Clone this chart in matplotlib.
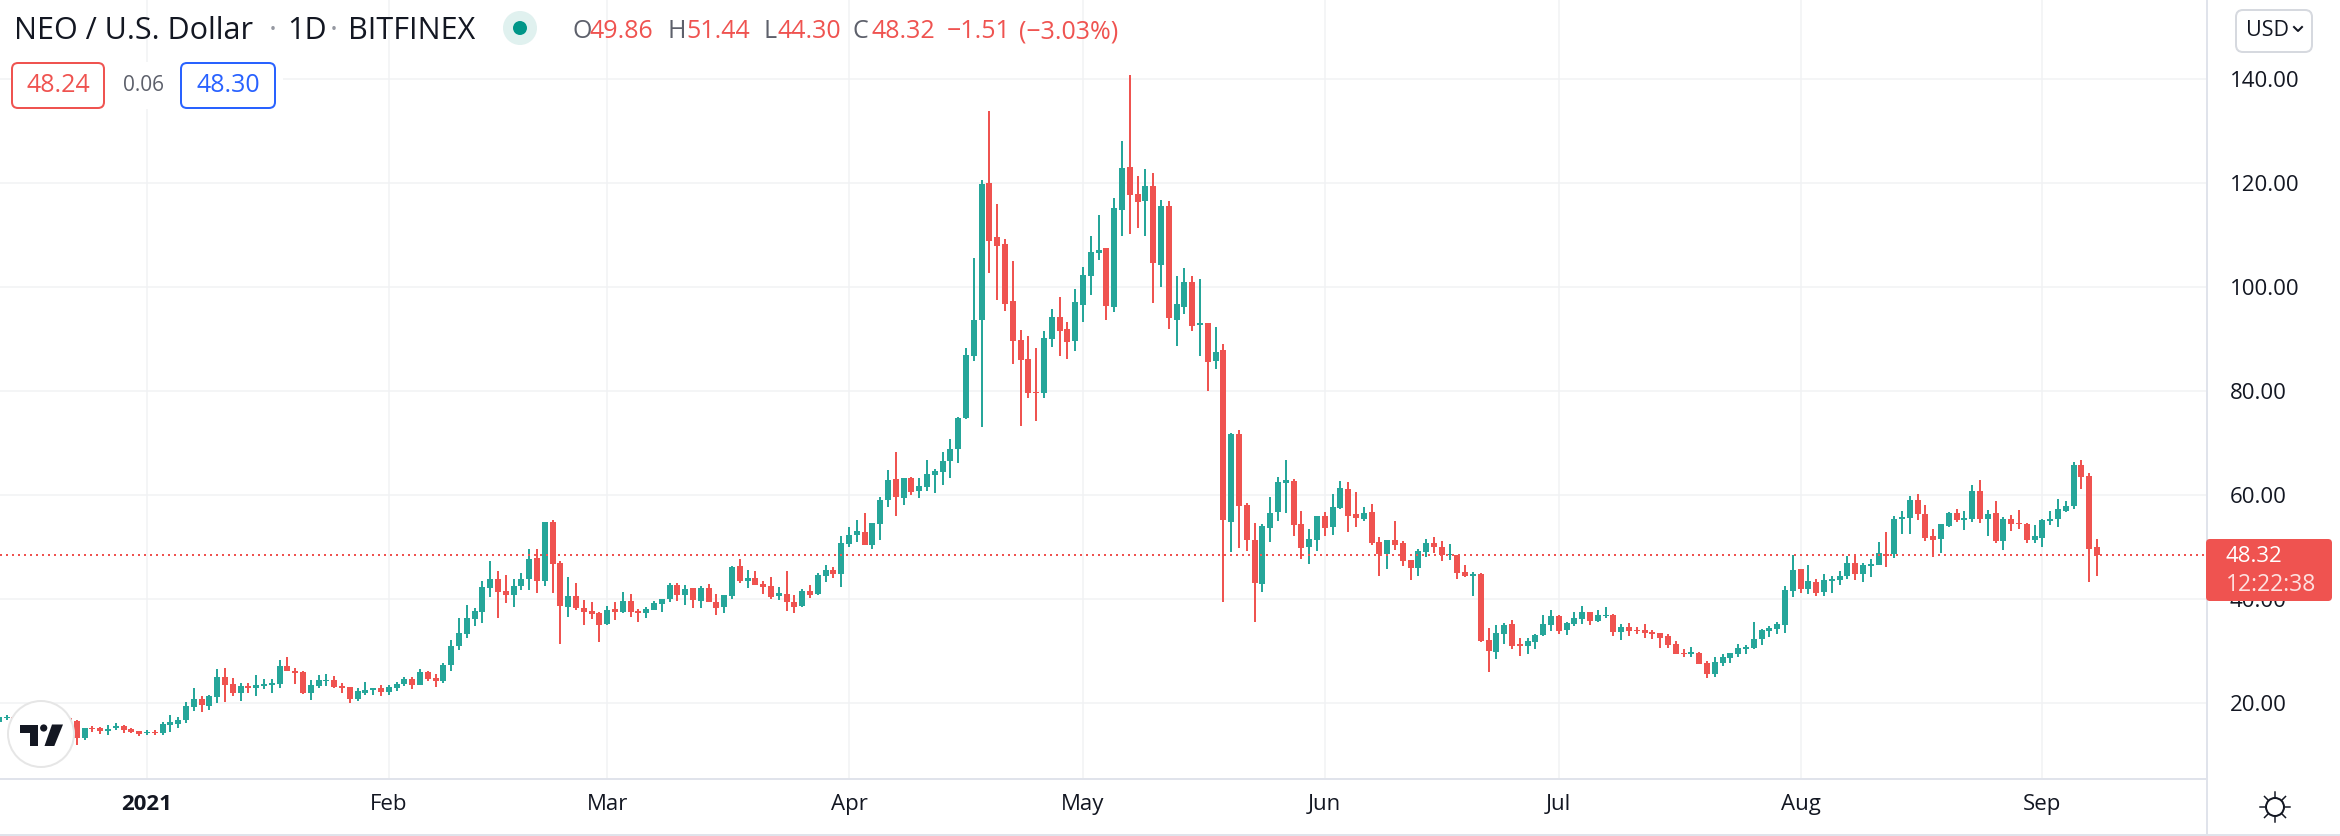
import pandas as pd
import matplotlib
matplotlib.use("Agg")
import matplotlib.pyplot as plt
import matplotlib.dates as mdates
from matplotlib.patches import Circle, FancyBboxPatch, Polygon, Rectangle

# daily candles, NEO/USD, 2020-12-13 .. 2021-09-08
first_day = "2020-12-13"
opens = [
    16.2, 17.0, 17.2, 17.0, 16.7, 16.5, 16.9, 16.6, 16.9, 17.1,
    16.5, 13.3, 15.1, 15.1, 14.6, 15.1, 15.5, 14.9, 14.5, 14.1,
    14.4, 14.1, 15.8, 16.0, 16.7, 19.2, 20.7, 19.4, 21.1, 24.9,
    23.6, 21.9, 23.2, 22.8, 23.2, 23.4, 23.6, 27.1, 26.1, 26.0,
    21.9, 23.2, 24.2, 24.4, 23.2, 23.0, 20.7, 21.9, 22.4, 22.8,
    22.1, 22.8, 23.6, 24.6, 23.4, 25.9, 24.7, 24.2, 27.2, 30.9,
    33.2, 36.1, 37.4, 42.1, 43.8, 41.5, 40.7, 42.4, 43.8, 47.8,
    43.4, 54.7, 46.9, 38.4, 40.5, 38.2, 37.6, 37.2, 35.1, 38.0,
    37.4, 39.6, 37.6, 37.2, 37.8, 39.0, 39.9, 42.6, 40.7, 42.1,
    39.6, 42.1, 39.4, 38.4, 40.5, 46.3, 43.4, 44.0, 42.8, 42.4,
    40.5, 40.9, 39.4, 38.6, 41.5, 40.9, 44.4, 45.5, 44.7, 50.5,
    52.2, 52.8, 50.3, 54.4, 59.0, 63.0, 59.4, 63.2, 60.7, 61.5,
    63.8, 64.4, 66.5, 68.8, 74.7, 86.7, 93.6, 119.9, 109.6, 108.2,
    97.2, 89.7, 86.1, 79.8, 79.6, 89.9, 94.2, 91.9, 89.6, 96.5,
    102.1, 106.5, 107.4, 96.1, 114.7, 123.0, 117.8, 116.5, 119.4, 104.2,
    115.5, 93.6, 96.1, 100.9, 92.6, 93.0, 85.7, 87.8, 54.7, 71.7,
    58.0, 51.3, 42.8, 53.6, 56.7, 62.2, 62.6, 54.4, 49.9, 51.3,
    55.9, 53.8, 57.4, 61.1, 56.3, 55.3, 56.7, 50.9, 48.6, 51.3,
    50.7, 47.4, 45.9, 49.0, 50.7, 49.9, 48.4, 48.4, 45.1, 44.4,
    44.7, 32.1, 29.7, 33.2, 35.1, 31.3, 30.9, 31.7, 33.0, 34.9,
    36.7, 34.0, 35.1, 36.1, 37.4, 35.7, 36.7, 36.9, 33.6, 34.6,
    34.0, 34.0, 33.6, 33.4, 32.8, 31.3, 29.6, 29.4, 29.6, 27.6,
    25.5, 27.6, 28.6, 29.4, 30.4, 30.5, 32.2, 33.8, 34.2, 34.9,
    41.5, 45.7, 41.9, 43.2, 41.3, 43.4, 43.6, 44.4, 46.9, 44.7,
    46.3, 46.5, 48.6, 48.6, 55.3, 55.5, 59.0, 56.3, 52.1, 51.5,
    54.0, 56.5, 55.1, 55.3, 60.7, 55.3, 56.5, 51.1, 55.3, 54.6,
    54.4, 51.3, 51.7, 54.9, 55.3, 56.9, 57.8, 65.7, 63.6, 49.86,
]
highs = [
    17.6, 17.6, 17.4, 17.5, 17.3, 17.2, 17.4, 17.1, 17.5, 17.3,
    16.6, 15.2, 15.6, 15.3, 15.7, 16.1, 15.7, 15.1, 14.6, 14.7,
    14.7, 16.3, 17.6, 17.2, 20.1, 22.8, 21.3, 21.5, 26.5, 26.7,
    24.7, 23.8, 23.8, 25.3, 24.6, 24.6, 28.2, 28.8, 26.7, 26.1,
    24.4, 25.3, 25.5, 25.1, 23.8, 23.1, 22.8, 24.0, 22.9, 23.4,
    23.4, 24.0, 24.9, 24.9, 26.5, 26.1, 25.5, 27.6, 32.1, 36.3,
    38.8, 38.2, 43.4, 47.2, 45.3, 44.6, 43.8, 44.9, 49.6, 49.6,
    54.8, 55.1, 47.2, 44.2, 43.0, 39.7, 39.4, 37.4, 38.6, 39.4,
    41.3, 40.9, 38.0, 38.4, 39.6, 40.0, 43.0, 43.0, 42.6, 42.1,
    42.4, 42.8, 40.9, 40.8, 46.3, 47.6, 45.5, 45.3, 43.4, 44.2,
    42.2, 45.3, 40.7, 41.9, 42.6, 44.9, 46.5, 46.1, 52.1, 53.8,
    55.1, 56.5, 54.6, 59.6, 64.7, 68.2, 63.3, 63.4, 63.2, 66.7,
    64.9, 68.2, 70.7, 74.9, 88.2, 105.5, 120.5, 133.8, 115.9, 109.2,
    104.9, 91.7, 90.5, 88.2, 91.5, 95.7, 98.0, 93.2, 99.6, 103.8,
    109.7, 113.8, 107.5, 117.1, 128.0, 140.7, 121.3, 122.6, 121.9, 116.7,
    116.5, 102.1, 103.6, 102.1, 101.5, 93.1, 92.2, 89.0, 71.9, 72.4,
    58.4, 54.6, 54.4, 59.6, 63.4, 66.7, 63.0, 56.9, 53.4, 56.0,
    56.7, 60.1, 62.6, 62.4, 60.5, 57.6, 58.2, 51.9, 51.3, 54.9,
    51.1, 47.5, 49.6, 51.5, 51.9, 51.1, 50.5, 48.5, 46.5, 45.1,
    44.9, 34.4, 34.9, 35.3, 35.9, 32.4, 32.4, 33.2, 36.9, 37.8,
    36.8, 35.5, 37.4, 38.6, 37.5, 37.8, 38.4, 37.0, 35.1, 35.3,
    34.6, 35.1, 34.0, 33.5, 33.2, 31.9, 30.3, 30.7, 29.7, 28.0,
    28.8, 29.4, 29.6, 31.3, 31.1, 35.5, 34.2, 34.7, 35.5, 42.4,
    48.4, 45.8, 46.5, 43.8, 44.7, 44.4, 45.3, 48.2, 48.4, 46.9,
    47.6, 50.9, 52.8, 55.9, 56.9, 59.7, 60.1, 58.0, 53.4, 54.4,
    56.7, 57.2, 56.9, 61.9, 62.8, 57.1, 58.8, 55.7, 56.1, 57.1,
    54.5, 54.2, 55.3, 56.9, 59.2, 58.8, 66.3, 66.7, 64.2, 51.44,
]
lows = [
    15.9, 16.7, 16.7, 16.4, 16.2, 16.1, 16.4, 16.2, 16.5, 16.2,
    11.9, 12.8, 14.4, 14.0, 13.8, 14.7, 14.2, 14.2, 13.6, 13.8,
    13.8, 13.8, 14.4, 15.1, 16.1, 18.4, 18.2, 18.6, 19.9, 20.1,
    21.3, 20.3, 21.9, 21.3, 22.6, 21.9, 22.8, 26.1, 23.6, 21.7,
    20.5, 22.8, 23.2, 22.8, 21.9, 19.9, 20.3, 21.5, 21.5, 21.3,
    21.5, 22.2, 23.2, 22.6, 23.4, 24.2, 23.0, 23.8, 26.1, 30.1,
    32.4, 34.7, 35.3, 40.3, 36.3, 39.2, 38.4, 41.7, 41.7, 41.1,
    42.4, 41.1, 31.3, 36.5, 37.8, 34.9, 36.1, 31.7, 34.9, 35.9,
    37.2, 36.5, 35.5, 36.3, 37.8, 37.4, 39.4, 39.6, 38.8, 38.2,
    38.2, 39.4, 36.9, 37.2, 39.9, 43.0, 42.1, 42.6, 40.9, 39.9,
    39.7, 37.6, 37.2, 38.4, 40.1, 40.7, 43.2, 44.0, 42.2, 49.9,
    50.9, 50.3, 49.6, 51.3, 57.6, 55.9, 58.0, 59.9, 59.4, 60.7,
    60.3, 61.9, 63.2, 66.1, 74.6, 85.7, 73.0, 102.6, 97.4, 95.3,
    85.1, 73.2, 78.6, 74.2, 78.6, 88.4, 86.7, 86.1, 87.6, 93.2,
    98.4, 105.1, 93.6, 95.1, 109.7, 110.1, 111.3, 109.7, 96.9, 99.9,
    91.9, 88.6, 94.7, 91.5, 86.7, 79.9, 84.2, 39.4, 49.0, 49.7,
    49.2, 35.5, 41.3, 50.9, 54.9, 56.5, 52.1, 47.6, 46.7, 49.2,
    52.1, 52.2, 57.2, 52.8, 53.8, 54.9, 50.3, 44.4, 45.7, 49.4,
    46.3, 43.6, 44.4, 48.0, 48.8, 47.2, 47.4, 43.8, 44.2, 40.5,
    31.7, 25.9, 28.4, 31.3, 30.3, 29.0, 29.4, 30.3, 32.8, 33.8,
    33.2, 33.0, 34.7, 35.1, 34.9, 35.5, 36.3, 32.8, 32.1, 32.8,
    33.2, 32.4, 32.2, 30.5, 30.5, 29.4, 28.8, 28.8, 27.4, 24.7,
    24.9, 27.1, 27.6, 28.8, 29.4, 30.3, 31.1, 32.6, 33.2, 33.4,
    40.3, 41.1, 40.9, 40.5, 40.5, 41.1, 42.6, 43.8, 43.6, 43.2,
    44.2, 46.4, 46.1, 47.8, 52.4, 52.4, 55.1, 51.1, 48.0, 48.8,
    53.8, 54.7, 53.2, 54.7, 54.6, 52.1, 50.7, 49.4, 53.0, 53.4,
    50.7, 50.7, 49.9, 54.2, 53.8, 56.7, 57.2, 61.1, 43.2, 44.30,
]
closes = [
    17.2, 17.2, 17.0, 16.7, 16.5, 16.9, 16.6, 16.9, 17.1, 16.5,
    13.3, 15.1, 14.9, 14.6, 14.9, 15.6, 14.7, 14.4, 14.0, 14.4,
    14.1, 15.9, 16.3, 16.7, 19.4, 20.7, 19.6, 21.3, 24.9, 23.4,
    21.9, 23.2, 22.8, 23.4, 23.6, 23.8, 27.1, 26.1, 25.8, 21.9,
    23.4, 24.4, 24.4, 23.0, 22.9, 20.7, 22.2, 22.4, 22.8, 22.1,
    23.0, 23.6, 24.6, 23.4, 25.9, 24.6, 24.2, 27.2, 30.9, 33.4,
    36.3, 37.6, 42.2, 43.8, 41.3, 40.7, 42.4, 43.8, 47.6, 43.4,
    54.7, 46.7, 38.6, 40.5, 38.2, 37.4, 37.1, 34.9, 37.8, 37.4,
    39.6, 37.4, 37.2, 38.0, 39.2, 39.9, 42.6, 40.7, 41.9, 39.7,
    42.1, 39.4, 38.2, 40.7, 46.1, 43.4, 44.0, 42.6, 42.2, 40.3,
    41.1, 39.4, 38.4, 41.5, 40.7, 44.6, 45.5, 44.7, 50.7, 52.2,
    53.0, 50.3, 54.6, 59.0, 62.8, 59.6, 63.2, 60.5, 61.7, 64.0,
    64.6, 66.5, 68.8, 74.7, 86.9, 93.6, 119.7, 108.8, 107.8, 96.7,
    89.6, 85.9, 79.6, 79.6, 90.1, 94.2, 91.5, 89.4, 97.1, 102.2,
    106.7, 107.1, 96.3, 115.1, 122.8, 117.6, 116.3, 119.4, 104.6, 115.5,
    94.0, 96.7, 100.9, 92.4, 93.0, 85.5, 87.4, 55.1, 71.7, 57.8,
    51.3, 43.0, 54.0, 56.5, 62.4, 62.8, 54.2, 49.7, 51.5, 55.9,
    53.6, 57.6, 61.3, 55.9, 55.5, 56.5, 50.7, 48.6, 51.3, 50.3,
    47.2, 45.9, 49.2, 50.7, 49.9, 48.4, 48.6, 44.9, 44.4, 44.7,
    31.9, 29.9, 33.4, 34.9, 30.9, 30.9, 31.9, 33.0, 35.1, 36.7,
    33.8, 35.3, 36.3, 37.4, 35.7, 36.9, 36.9, 33.6, 34.6, 33.8,
    33.8, 33.4, 33.3, 32.4, 31.1, 29.4, 29.4, 29.7, 27.4, 25.5,
    27.8, 28.8, 29.6, 30.5, 30.7, 32.2, 34.0, 34.4, 35.1, 41.7,
    45.5, 41.9, 43.4, 41.1, 43.6, 43.7, 44.4, 46.9, 44.7, 46.5,
    46.7, 48.8, 48.2, 55.3, 55.7, 59.0, 56.3, 51.7, 51.3, 54.4,
    56.5, 55.1, 55.5, 60.7, 55.3, 56.3, 51.1, 55.3, 54.4, 54.3,
    51.3, 52.1, 55.1, 55.3, 57.2, 57.8, 65.7, 63.4, 49.6, 48.32,
]
last_price = 48.32

price_ticks = [20, 40, 60, 80, 100, 120, 140]
month_days = ["2021-01-01", "2021-02-01", "2021-03-01", "2021-04-01", "2021-05-01",
              "2021-06-01", "2021-07-01", "2021-08-01", "2021-09-01"]
month_labels = ["2021", "Feb", "Mar", "Apr", "May", "Jun", "Jul", "Aug", "Sep"]

GREEN = "#26a69a"
RED = "#ef5350"
BLUE = "#2962ff"
DARK = "#131722"
GRAY = "#5d606b"
GRID = "#f1f2f4"
LINE = "#e0e3eb"
W, H = 2340, 836
PX = 72 / 100  # points per pixel

plt.rcParams["font.family"] = ["Open Sans", "DejaVu Sans"]

fig = plt.figure(figsize=(W / 100, H / 100), dpi=100)
ax = fig.add_axes([0, (H - 779) / H, 2206.7 / W, 779 / H])

days = mdates.date2num(pd.date_range(first_day, periods=len(opens), freq="D"))
jan1 = mdates.date2num(pd.Timestamp("2021-01-01"))
ax.set_xlim(jan1 - 147 / 7.8, jan1 + (2206.7 - 147) / 7.8)
ax.set_ylim((806.7 - 779) / 5.2, 806.7 / 5.2)

colors = [GREEN if c >= o else RED for o, c in zip(opens, closes)]
ax.vlines(days, lows, highs, colors=colors, linewidth=2 * PX, zorder=3)
bottoms = [min(o, c) for o, c in zip(opens, closes)]
heights = [abs(o - c) for o, c in zip(opens, closes)]
ax.bar(days, heights, bottom=bottoms, width=6 / 7.8, color=colors, linewidth=0, zorder=4)

ax.axhline(last_price, color=RED, linewidth=2 * PX, linestyle=(0, (1, 2)),
           dash_capstyle="butt", zorder=5)

ax.set_yticks(price_ticks)
ax.set_yticklabels([f"{p:.2f}" for p in price_ticks])
ax.yaxis.tick_right()
ax.set_xticks(mdates.date2num(pd.to_datetime(month_days)))
ax.set_xticklabels(month_labels)
ax.xaxis.get_ticklabels()[0].set_fontweight("bold")
ax.tick_params(axis="y", length=0, pad=16.5, labelsize=16, labelcolor=DARK)
ax.tick_params(axis="x", length=0, pad=11, labelsize=16, labelcolor=DARK)
ax.grid(True, color=GRID, linewidth=1.1, zorder=0)
ax.set_axisbelow(True)
for side in ["top", "left"]:
    ax.spines[side].set_visible(False)
for side in ["right", "bottom"]:
    ax.spines[side].set_color(LINE)
    ax.spines[side].set_linewidth(2 * PX)

# overlay in pixel coordinates for the chart furniture
ui = fig.add_axes([0, 0, 1, 1])
ui.set_xlim(0, W)
ui.set_ylim(H, 0)
ui.axis("off")
ui.patch.set_alpha(0)

ui.plot([2206.7, 2206.7], [779, 835], color=LINE, linewidth=2 * PX)
ui.plot([0, W], [835, 835], color=LINE, linewidth=2 * PX)

# header
ui.text(14, 31, "NEO / U.S. Dollar", fontsize=22, color=DARK, va="center")
ui.text(273, 31, "·", fontsize=22, color="#9598a1", va="center", ha="center")
ui.text(287, 31, "1D", fontsize=22, color=DARK, va="center")
ui.text(334, 31, "·", fontsize=22, color="#9598a1", va="center", ha="center")
ui.text(348, 31, "BITFINEX", fontsize=22, color=DARK, va="center")
ui.add_patch(Circle((520, 28), 17, facecolor="#e0f1ef", edgecolor="none"))
ui.add_patch(Circle((520, 28), 7, facecolor="#009688", edgecolor="none"))

for x, s, c in [(572, "O", GRAY), (589, "49.86", RED), (667, "H", GRAY), (686, "51.44", RED),
                (763, "L", GRAY), (777, "44.30", RED), (853, "C", GRAY), (871, "48.32", RED),
                (947, "−1.51", RED), (1019, "(−3.03%)", RED)]:
    ui.text(x, 32, s, fontsize=18, color=c, va="center")

ui.add_patch(Rectangle((11, 62), 272, 47, facecolor="white", edgecolor="none"))
ui.add_patch(FancyBboxPatch((12, 63), 92, 45, boxstyle="round,pad=0,rounding_size=6",
                            facecolor="white", edgecolor=RED, linewidth=2 * PX))
ui.text(58, 85.5, "48.24", fontsize=18, color=RED, ha="center", va="center")
ui.text(143, 85.5, "0.06", fontsize=15, color=GRAY, ha="center", va="center")
ui.add_patch(FancyBboxPatch((181, 63), 94, 45, boxstyle="round,pad=0,rounding_size=6",
                            facecolor="white", edgecolor=BLUE, linewidth=2 * PX))
ui.text(228, 85.5, "48.30", fontsize=18, color=BLUE, ha="center", va="center")

# currency button
ui.add_patch(FancyBboxPatch((2236, 10), 76, 42, boxstyle="round,pad=0,rounding_size=7",
                            facecolor="white", edgecolor="#d6d9df", linewidth=2 * PX))
ui.text(2267, 30, "USD", fontsize=15.5, color=DARK, ha="center", va="center")
ui.plot([2294, 2298, 2302], [27, 31, 27], color=DARK, linewidth=2 * PX)

# last price tag
ui.add_patch(FancyBboxPatch((2206, 539), 126, 62, boxstyle="round,pad=0,rounding_size=4",
                            facecolor=RED, edgecolor="none"))
ui.text(2226, 557, "48.32", fontsize=16, color="white", va="center")
ui.text(2226, 585, "12:22:38", fontsize=16.5, color="#fde0df", va="center")

# logo
ui.add_patch(Circle((41, 734), 33, facecolor="white", edgecolor="#e6e6e6", linewidth=2 * PX))
ui.add_patch(Polygon([(20, 724.5), (38, 724.5), (38, 746), (30, 746), (30, 732.5), (20, 732.5)],
                     facecolor=DARK, edgecolor="none"))
ui.add_patch(Circle((43.7, 728), 3.6, facecolor=DARK, edgecolor="none"))
ui.add_patch(Polygon([(52, 724.5), (63, 724.5), (54.3, 746), (44.5, 746)],
                     facecolor=DARK, edgecolor="none"))

# settings icon
ui.add_patch(Circle((2275, 807), 9, facecolor="white", edgecolor=DARK, linewidth=2 * PX))
for dx, dy in [(0, -1), (0, 1), (1, 0), (-1, 0), (.7, .7), (-.7, .7), (.7, -.7), (-.7, -.7)]:
    ui.plot([2275 + 10 * dx, 2275 + 15 * dx], [807 + 10 * dy, 807 + 15 * dy],
            color=DARK, linewidth=1.5 * PX)

fig.savefig("out.png", dpi=100)
